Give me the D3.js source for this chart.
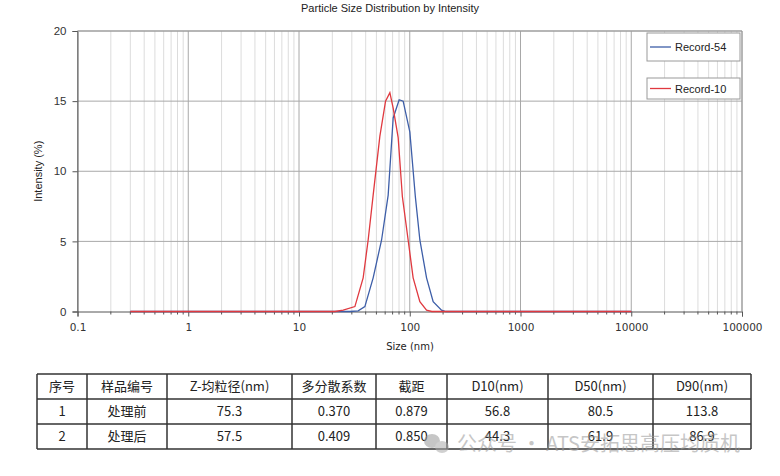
<!DOCTYPE html>
<html>
<head>
<meta charset="utf-8">
<script src="https://cdn.jsdelivr.net/npm/d3@7"></script>
<style>
  body { margin: 0; background: #fff; }
  svg { display: block; }
</style>
</head>
<body>
<div id="chart"></div>
<script>
// size classes (nm) and intensity (%)
const sizes54 = [0.3, 28.8, 34.21, 39.33, 46.73, 55.67, 63.85, 70.85, 80.25, 87.2, 100.2, 112.3, 123.4, 141.8, 162.7, 193.6, 211.8, 10000];
const intensity54 = [0, 0, 0.05, 0.35, 2.4, 5.1, 8.3, 13.8, 15.1, 15.0, 12.8, 8.2, 5.1, 2.4, 0.7, 0.1, 0, 0];

const sizes10 = [0.3, 21.1, 25.06, 31.96, 37.96, 42.12, 46.73, 53.73, 60.47, 66.13, 70.85, 78.6, 85.75, 96.7, 107.3, 123.4, 141.8, 158.3, 10000];
const intensity10 = [0, 0, 0.1, 0.35, 2.4, 5.1, 8.3, 12.5, 15.0, 15.6, 14.5, 12.4, 8.2, 5.1, 2.4, 0.7, 0.1, 0, 0];

const seriesNames = ["Record-54", "Record-10"];
const xTicks = [0.1, 1, 10, 100, 1000, 10000, 100000];
const yTicks = [0, 5, 10, 15, 20];

// table below the chart
const tableHeader = ["序号", "样品编号", "Z-均粒径(nm)", "多分散系数", "截距", "D10(nm)", "D50(nm)", "D90(nm)"];
const tableRows = [
    ["1", "处理前", "75.3", "0.370", "0.879", "56.8", "80.5", "113.8"],
    ["2", "处理后", "57.5", "0.409", "0.850", "44.3", "61.9", "86.9"]
];

const width = 780,
      height = 476,
      margin = ({ top: 31, right: 38, bottom: 164.5, left: 77.5 });

const colors = ["#3d5ea8", "#e0393f"];

let svg = d3.select("#chart")
    .append("svg")
    .attr("width", width)
    .attr("height", height);

let x = d3.scaleLog()
    .domain([0.1, 100000])
    .range([margin.left, width - margin.right]);

let y = d3.scaleLinear()
    .domain([0, 20])
    .range([height - margin.bottom, margin.top]);

const x0 = x.range()[0], x1 = x.range()[1], yb = y(0), yt = y(20);

// minor + major vertical grid
let minors = [];
for (let p = -1; p < 5; p++) {
    for (let m = 2; m <= 9; m++) minors.push(m * Math.pow(10, p));
}

svg.append("g")
    .selectAll("line")
    .data(minors)
    .join("line")
    .attr("x1", d => x(d)).attr("x2", d => x(d))
    .attr("y1", yt).attr("y2", yb)
    .attr("stroke", "#dcdcdc")
    .attr("stroke-width", 1);

svg.append("g")
    .selectAll("line")
    .data(xTicks)
    .join("line")
    .attr("x1", d => x(d)).attr("x2", d => x(d))
    .attr("y1", yt).attr("y2", yb)
    .attr("stroke", "#a8a8a8")
    .attr("stroke-width", 1);

// horizontal grid
svg.append("g")
    .selectAll("line")
    .data(yTicks.slice(1))
    .join("line")
    .attr("x1", x0).attr("x2", x1)
    .attr("y1", d => y(d)).attr("y2", d => y(d))
    .attr("stroke", "#a8a8a8")
    .attr("stroke-width", 1);

// y axis
let yAxis = svg.append("g")
    .attr("transform", `translate(${x0},0)`)
    .call(d3.axisLeft(y).tickValues(yTicks).tickSize(5).tickPadding(6));
yAxis.select(".domain").attr("stroke", "#555");
yAxis.selectAll(".tick line").attr("stroke", "#555");
yAxis.selectAll("text")
    .attr("font-family", "Liberation Sans, Arial, sans-serif")
    .attr("font-size", 11.5)
    .attr("fill", "#333");

// x axis, minor ticks first
svg.append("g")
    .selectAll("line")
    .data(minors)
    .join("line")
    .attr("x1", d => x(d)).attr("x2", d => x(d))
    .attr("y1", yb).attr("y2", yb + 3)
    .attr("stroke", "#555");

let xAxis = svg.append("g")
    .attr("transform", `translate(0,${yb})`)
    .call(d3.axisBottom(x).tickValues(xTicks).tickFormat(d => String(d)).tickSize(5).tickPadding(7));
xAxis.select(".domain").attr("stroke", "#555");
xAxis.selectAll(".tick line").attr("stroke", "#555");
xAxis.selectAll("text")
    .attr("font-family", "DejaVu Sans, Verdana, sans-serif")
    .attr("font-size", 10.5)
    .attr("fill", "#333");

// frame top/right
svg.append("line")
    .attr("x1", x0).attr("x2", x1).attr("y1", yt).attr("y2", yt)
    .attr("stroke", "#999");
svg.append("line")
    .attr("x1", x1).attr("x2", x1).attr("y1", yt).attr("y2", yb)
    .attr("stroke", "#999");

// curves
let line = d3.line()
    .x(d => x(d[0]))
    .y(d => y(d[1]));

const series = [
    d3.zip(sizes54, intensity54),
    d3.zip(sizes10, intensity10)
];

svg.append("g")
    .selectAll("path")
    .data(series)
    .join("path")
    .attr("d", line)
    .attr("fill", "none")
    .attr("stroke", (d, i) => colors[i])
    .attr("stroke-width", 1.3);

// title + axis titles
svg.append("text")
    .attr("x", width / 2)
    .attr("y", 12)
    .attr("text-anchor", "middle")
    .attr("font-family", "Liberation Sans, Arial, sans-serif")
    .attr("font-size", 11)
    .attr("fill", "#222")
    .text("Particle Size Distribution by Intensity");

svg.append("text")
    .attr("x", 410)
    .attr("y", 350)
    .attr("text-anchor", "middle")
    .attr("font-family", "DejaVu Sans, Verdana, sans-serif")
    .attr("font-size", 10)
    .attr("fill", "#222")
    .text("Size (nm)");

svg.append("text")
    .attr("transform", `translate(42,${(yt + yb) / 2}) rotate(-90)`)
    .attr("text-anchor", "middle")
    .attr("font-family", "Liberation Sans, Arial, sans-serif")
    .attr("font-size", 11)
    .attr("fill", "#222")
    .text("Intensity (%)");

// legend: one box per series
const legendBoxes = [{ y: 33, h: 28 }, { y: 78, h: 21 }];
let legend = svg.append("g")
    .selectAll("g")
    .data(seriesNames)
    .join("g")
    .attr("transform", (d, i) => `translate(647,${legendBoxes[i].y})`);

legend.append("rect")
    .attr("width", 93)
    .attr("height", (d, i) => legendBoxes[i].h)
    .attr("fill", "#fff")
    .attr("stroke", "#9a9a9a");

legend.append("line")
    .attr("x1", 3).attr("x2", 24)
    .attr("y1", (d, i) => legendBoxes[i].h / 2)
    .attr("y2", (d, i) => legendBoxes[i].h / 2)
    .attr("stroke", (d, i) => colors[i])
    .attr("stroke-width", 1.3);

legend.append("text")
    .attr("x", 28)
    .attr("y", (d, i) => legendBoxes[i].h / 2 + 4)
    .attr("font-family", "Liberation Sans, Arial, sans-serif")
    .attr("font-size", 11)
    .attr("fill", "#222")
    .text(d => d);

// table
const colEdges = [37, 87, 167, 292, 376, 447, 548, 653, 751];
const rowTop = 374, rowH = 25;
const allRows = [tableHeader].concat(tableRows);

let table = svg.append("g");

table.selectAll("line.h")
    .data(d3.range(allRows.length + 1))
    .join("line")
    .attr("class", "h")
    .attr("x1", colEdges[0]).attr("x2", colEdges[colEdges.length - 1])
    .attr("y1", d => rowTop + d * rowH).attr("y2", d => rowTop + d * rowH)
    .attr("stroke", "#333").attr("stroke-width", 1.5);

table.selectAll("line.v")
    .data(colEdges)
    .join("line")
    .attr("class", "v")
    .attr("x1", d => d).attr("x2", d => d)
    .attr("y1", rowTop).attr("y2", rowTop + allRows.length * rowH)
    .attr("stroke", "#333").attr("stroke-width", 1.5);

allRows.forEach((row, r) => {
    table.append("g")
        .selectAll("text")
        .data(row)
        .join("text")
        .attr("x", (d, c) => (colEdges[c] + colEdges[c + 1]) / 2)
        .attr("y", rowTop + r * rowH + rowH / 2 + 4.5)
        .attr("text-anchor", "middle")
        .attr("font-family", "Noto Sans CJK SC, sans-serif")
        .attr("font-size", 13)
        .attr("fill", "#222")
        .text(d => d);
});

// watermark
let wm = svg.append("g").attr("opacity", 0.55);
wm.append("ellipse").attr("cx", 432).attr("cy", 441).attr("rx", 8).attr("ry", 7).attr("fill", "#999");
wm.append("ellipse").attr("cx", 442).attr("cy", 447).attr("rx", 7).attr("ry", 6).attr("fill", "#aaa");
wm.append("text")
    .attr("x", 457)
    .attr("y", 451)
    .attr("font-family", "Noto Sans CJK SC, sans-serif")
    .attr("font-size", 20)
    .attr("fill", "#999")
    .text("公众号 · ATS安拓思高压均质机");
</script>
</body>
</html>
